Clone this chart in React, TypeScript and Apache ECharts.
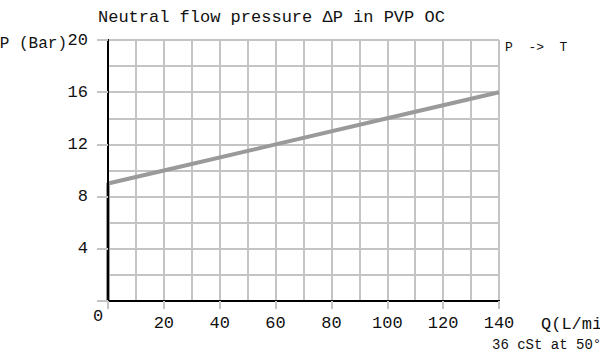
import React, { useEffect, useRef } from "react";
import * as echarts from "echarts";

const titleText = "Neutral flow pressure \u0394P in PVP OC";
const yName = "P (Bar)";
const xName = "Q(L/min)";
const noteText = "36 cSt at 50\u00b0C";
const curveLabel = "P  ->  T";
const xMin = 0;
const xMax = 140;
const yMin = 0;
const yMax = 20;
const flow = [0, 0, 20, 60, 100, 140];
const pressure = [0, 9, 10, 12, 14, 16];

const FONT = "'Liberation Mono', 'DejaVu Sans Mono', monospace";

export default function App() {
  const ref = useRef<HTMLDivElement>(null);
  useEffect(() => {
    document.body.style.margin = "0";
    if (!ref.current) return;
    const chart = echarts.init(ref.current, null, { renderer: "svg" });
    const gridGray = "#c4c4c4";
    chart.setOption({
      animation: false,
      backgroundColor: "#ffffff",
      title: {
        text: titleText,
        left: 93,
        top: 4,
        textStyle: { fontFamily: FONT, fontSize: 17, fontWeight: "normal", color: "#111" },
      },
      grid: { left: 108, right: 101, top: 40, bottom: 53 },
      xAxis: [
        {
          type: "value",
          position: "bottom",
          min: xMin,
          max: xMax,
          interval: 20,
          axisLine: { show: true, lineStyle: { color: "#000", width: 2 } },
          axisTick: { show: true, length: 8, lineStyle: { color: gridGray, width: 2 } },
          axisLabel: {
            margin: 14,
            fontFamily: FONT,
            fontSize: 17,
            color: "#111",
            formatter: (v: number) => (v === 0 ? "" : String(v)),
          },
          splitLine: { show: false },
          z: 5,
        },
        {
          type: "value",
          position: "top",
          min: xMin,
          max: xMax,
          interval: 10,
          axisLine: { show: true, lineStyle: { color: "#000", width: 2 } },
          axisTick: { show: false },
          axisLabel: { show: false },
          splitLine: { show: true, lineStyle: { color: gridGray, width: 2 } },
          z: 0,
        },
      ],
      yAxis: [
        {
          type: "value",
          position: "left",
          min: yMin,
          max: yMax,
          interval: 4,
          axisLine: { show: true, lineStyle: { color: "#000", width: 2 } },
          axisTick: { show: true, length: 11, lineStyle: { color: gridGray, width: 2 } },
          axisLabel: {
            margin: 20,
            fontFamily: FONT,
            fontSize: 17,
            color: "#111",
            formatter: (v: number) => (v === 0 ? "" : String(v)),
          },
          splitLine: { show: false },
          z: 5,
        },
        {
          type: "value",
          position: "right",
          min: yMin,
          max: yMax,
          interval: 2,
          axisLine: { show: true, lineStyle: { color: "#000", width: 2 } },
          axisTick: { show: false },
          axisLabel: { show: false },
          splitLine: { show: true, lineStyle: { color: gridGray, width: 2 } },
          z: 0,
        },
      ],
      series: [
        {
          type: "line",
          xAxisIndex: 0,
          yAxisIndex: 0,
          data: flow.map((f, i) => [f, pressure[i]]),
          symbol: "none",
          lineStyle: { color: "#9a9a9a", width: 4 },
          z: 2,
        },
      ],
      graphic: [
        {
          type: "text",
          x: 67,
          y: 44,
          style: { text: yName, font: `16px ${FONT}`, fill: "#111", align: "right", verticalAlign: "middle" },
        },
        {
          type: "text",
          x: 98,
          y: 316,
          style: { text: "0", font: `17px ${FONT}`, fill: "#111", align: "center", verticalAlign: "middle" },
        },
        {
          type: "text",
          x: 541,
          y: 324,
          style: { text: xName, font: `17px ${FONT}`, fill: "#111", align: "left", verticalAlign: "middle" },
        },
        {
          type: "text",
          x: 492,
          y: 345,
          style: { text: noteText, font: `14px ${FONT}`, fill: "#111", align: "left", verticalAlign: "middle" },
        },
        {
          type: "text",
          x: 505,
          y: 47,
          style: { text: curveLabel, font: `13px ${FONT}`, fill: "#111", align: "left", verticalAlign: "middle" },
        },
      ],
    });
    return () => chart.dispose();
  }, []);
  return <div ref={ref} style={{ width: 600, height: 354 }} />;
}
